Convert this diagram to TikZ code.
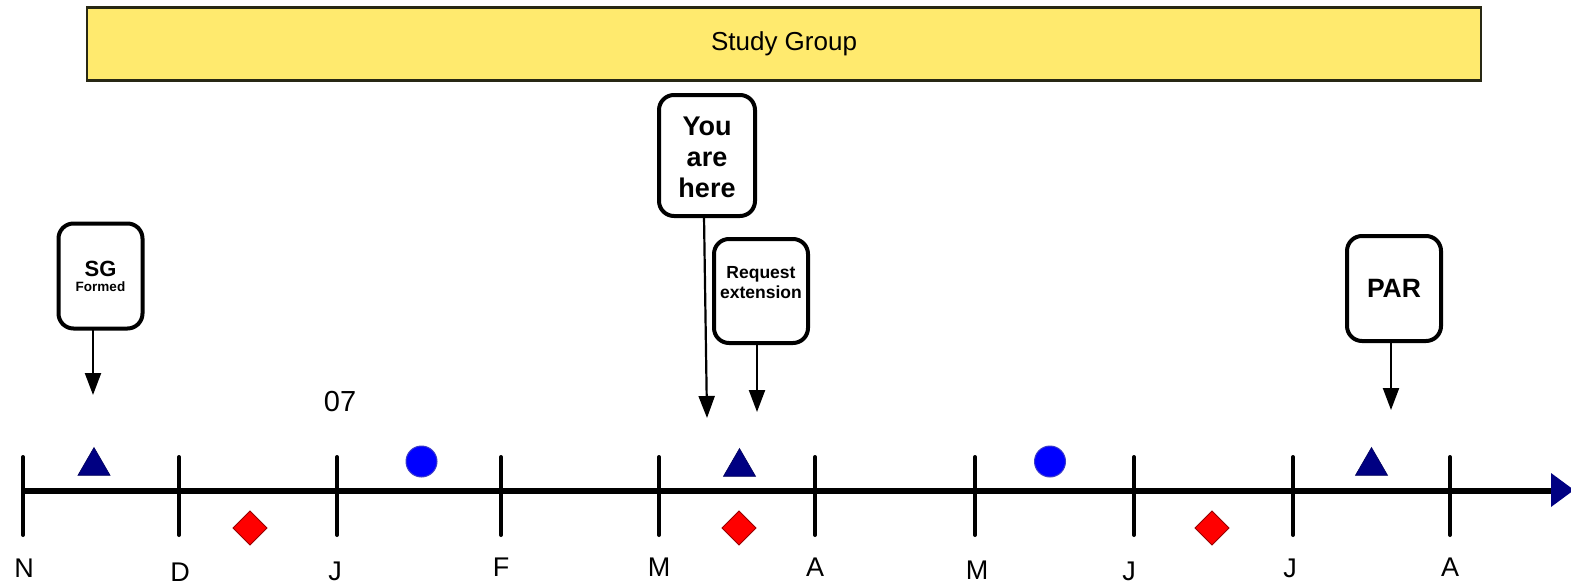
\documentclass[tikz,border=0pt]{standalone}
\usepackage{fontspec}
\setmainfont{Liberation Sans}
\usetikzlibrary{arrows.meta,shapes.geometric}
\definecolor{sgyellow}{RGB}{255,234,110}
\definecolor{barline}{RGB}{40,40,20}
\definecolor{navytri}{RGB}{0,0,130}
\definecolor{dotblue}{RGB}{0,0,255}
\definecolor{dotedge}{RGB}{60,60,200}
\definecolor{diared}{RGB}{255,0,0}
\definecolor{diaedge}{RGB}{150,0,0}
\begin{document}
\begin{tikzpicture}[x=1pt,y=-1pt,
  every node/.style={inner sep=0pt,outer sep=0pt},
  box/.style={draw=black,line width=4pt,rounded corners=15pt,fill=white,align=center,font=\bfseries},
  arr/.style={draw=black,line width=2.2pt,-{Triangle[length=22pt,width=16pt]}},
  tickmark/.style={draw=black,line width=4pt,line cap=round},
  month/.style={anchor=base,font=\fontsize{27}{27}\selectfont},
  tri/.style={regular polygon,regular polygon sides=3,fill=navytri,draw=navytri!70!black,line width=0.6pt,minimum size=37pt},
  dot/.style={circle,fill=dotblue,draw=dotedge,line width=1pt,minimum size=31pt},
  dia/.style={diamond,fill=diared,draw=diaedge,line width=0.8pt,minimum width=34pt,minimum height=34pt}
]
\useasboundingbox (0,0) rectangle (1571,586);

% Study group bar
\node[draw=barline,line width=2.5pt,fill=sgyellow,minimum width=1394pt,minimum height=73pt,
  font=\fontsize{26}{26}\selectfont] (sg) at (784,44) {Study Group};

% timeline
\coordinate (axL) at (21,491);
\coordinate (axR) at (1553,491);
\draw[line width=6pt] (axL) -- (axR);
\fill[navytri] (1551,473) -- (1574,490) -- (1551,507) -- cycle;

\foreach \x/\name in {23/tN,179/tD,337/tJa,501/tF,659/tM,815/tA,975/tMb,1134/tJb,1293/tJc,1450/tAb}{
  \coordinate (\name top) at (\x,457);
  \coordinate (\name bot) at (\x,535);
  \draw[tickmark] (\name top) -- (\name bot);
}

% month labels
\node[month] (lN) at (24,577) {N};
\node[month] (lD) at (180,581) {D};
\node[month] (lJa) at (335,580.5) {J};
\node[month] (lF) at (501,576.5) {F};
\node[month] (lM) at (659,576.5) {M};
\node[month] (lA) at (815,576.5) {A};
\node[month] (lMb) at (977,579.5) {M};
\node[month] (lJb) at (1129,580.5) {J};
\node[month] (lJc) at (1290,577) {J};
\node[month] (lAb) at (1450,576.5) {A};

\node[anchor=base,font=\fontsize{29}{29}\selectfont] (yr) at (340,411) {07};

% markers
\node[tri] (tr1) at (94,466) {};
\node[tri] (tr2) at (739.5,467) {};
\node[tri] (tr3) at (1371.5,466) {};
\node[dot] (c1) at (421.5,461.5) {};
\node[dot] (c2) at (1050,461.5) {};
\node[dia] (d1) at (250,528) {};
\node[dia] (d2) at (739,528) {};
\node[dia] (d3) at (1212,528) {};

% boxes
\node[box,minimum width=84pt,minimum height=105pt] (sgf) at (100.5,276)
  {\raisebox{-2pt}{\shortstack{\fontsize{22}{22}\selectfont SG\\[2pt]\fontsize{13.5}{13.5}\selectfont Formed}}};
\node[box,minimum width=96pt,minimum height=121pt,font=\bfseries\fontsize{27}{31}\selectfont] (yah) at (707,155.5)
  {\raisebox{0pt}[\dimexpr\height+9pt\relax][\depth]{\begin{tabular}{@{}c@{}}You\\are\\here\end{tabular}}};
\node[box,minimum width=94pt,minimum height=104pt,font=\bfseries\fontsize{17.5}{21}\selectfont] (req) at (761,291)
  {\raisebox{0pt}[\height][\dimexpr\depth+13pt\relax]{\begin{tabular}{@{}c@{}}Request\\[-1pt]extension\end{tabular}}};
\node[box,minimum width=94pt,minimum height=105pt,font=\bfseries\fontsize{26.5}{26.5}\selectfont] (par) at (1394,288.5)
  {PAR};

% arrows
\coordinate (sgT) at (93,395);
\coordinate (yahT) at (707,418);
\coordinate (reqT) at (757,412);
\coordinate (parT) at (1391,410);
\draw[arr] (sgT |- sgf.south) -- (sgT);
\draw[arr] ([xshift=-3pt]yah.south) -- (yahT);
\draw[arr] (reqT |- req.south) -- (reqT);
\draw[arr] (parT |- par.south) -- (parT);
\end{tikzpicture}
\end{document}
